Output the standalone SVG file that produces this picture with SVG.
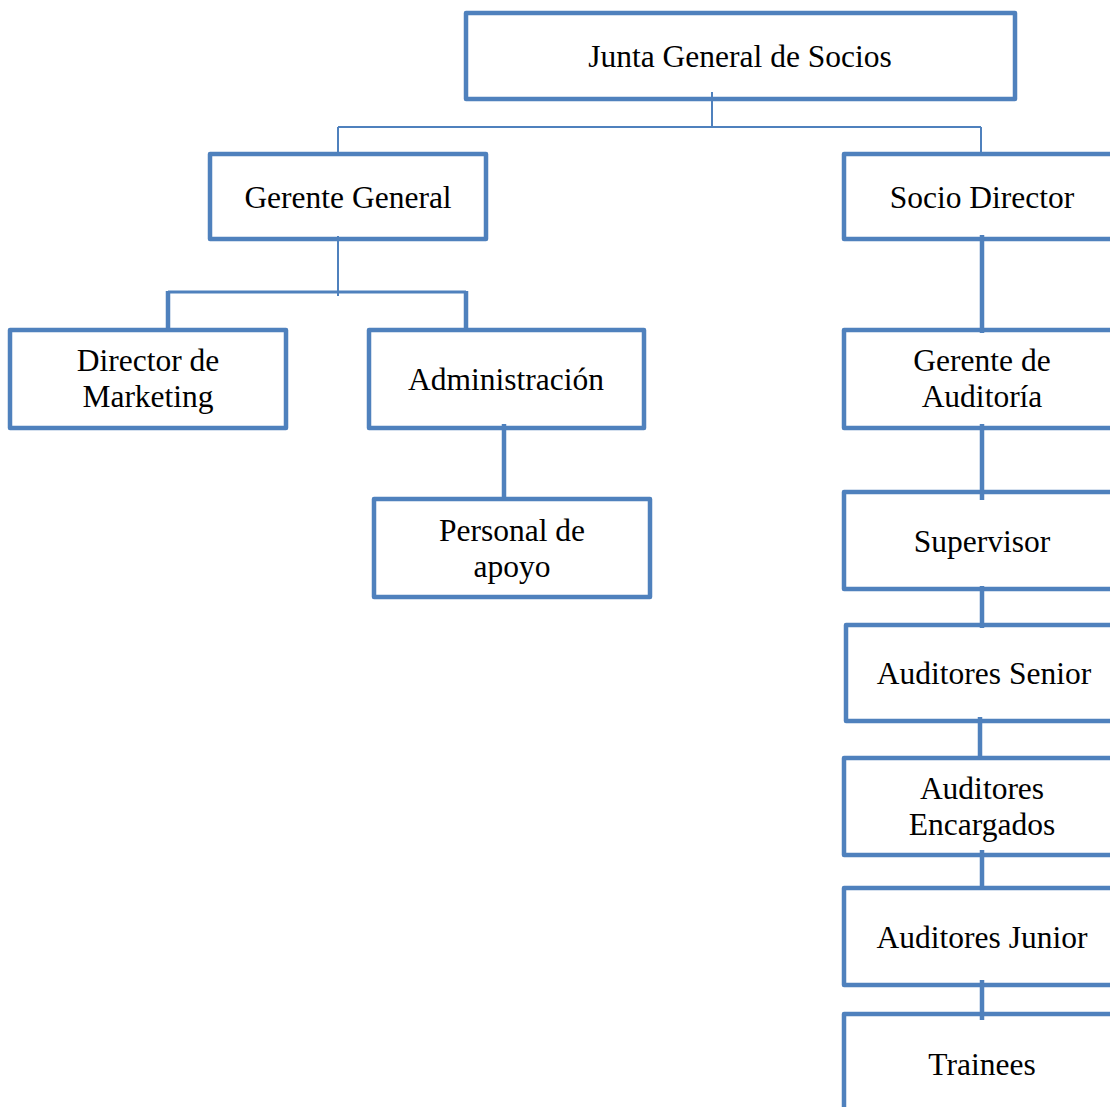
<svg xmlns="http://www.w3.org/2000/svg" width="1110" height="1107" viewBox="0 0 1110 1107">
<style>
.box{fill:#fff;stroke:#4F81BD;stroke-width:4.5;stroke-linejoin:round}
.t{font-family:"Liberation Serif","Times New Roman",serif;font-size:31.5px;fill:#000;text-anchor:middle}
.thin{stroke:#4F81BD;stroke-width:2;fill:none}
.mid{stroke:#4F81BD;stroke-width:3;fill:none}
.thick{stroke:#4F81BD;stroke-width:4.5;fill:none}
</style>
<rect width="1110" height="1107" fill="#fff"/>
<g id="n-junta"><rect class="box" x="466" y="13" width="549" height="86"/><text class="t" x="740" y="67">Junta General de Socios</text></g>
<g id="n-gerente"><rect class="box" x="210" y="154" width="276" height="85"/><text class="t" x="348" y="208">Gerente General</text></g>
<g id="n-socio"><rect class="box" x="844" y="154" width="290" height="85"/><text class="t" x="982" y="208">Socio Director</text></g>
<g id="n-marketing"><rect class="box" x="10" y="330" width="276" height="98"/><text class="t" x="148" y="371">Director de</text><text class="t" x="148" y="407">Marketing</text></g>
<g id="n-admin"><rect class="box" x="369" y="330" width="275" height="98"/><text class="t" x="506" y="390">Administración</text></g>
<g id="n-personal"><rect class="box" x="374" y="499" width="276" height="98"/><text class="t" x="512" y="541">Personal de</text><text class="t" x="512" y="577">apoyo</text></g>
<g id="n-gerente-aud"><rect class="box" x="844" y="330" width="290" height="98"/><text class="t" x="982" y="371">Gerente de</text><text class="t" x="982" y="407">Auditoría</text></g>
<g id="n-supervisor"><rect class="box" x="844" y="492" width="290" height="97"/><text class="t" x="982" y="552">Supervisor</text></g>
<g id="n-senior"><rect class="box" x="846" y="625" width="290" height="96"/><text class="t" x="984" y="684">Auditores Senior</text></g>
<g id="n-encargados"><rect class="box" x="844" y="758" width="290" height="97"/><text class="t" x="982" y="799">Auditores</text><text class="t" x="982" y="835">Encargados</text></g>
<g id="n-junior"><rect class="box" x="844" y="888" width="290" height="97"/><text class="t" x="982" y="948">Auditores Junior</text></g>
<g id="n-trainees"><rect class="box" x="844" y="1014" width="290" height="130"/><text class="t" x="982" y="1075">Trainees</text></g>
<g id="connectors">
<path class="thin" d="M712 92V127M338 127H981M338 127V153M981 127V153"/>
<path class="thin" d="M338 236V296"/>
<path class="mid" d="M168 292H466"/>
<path class="thick" d="M168 291V329M466 291V329"/>
<path class="thick" d="M504 424V498"/>
<path class="thick" d="M982 235V333M982 424V500M982 586V628M980 717V758M982 850V890M982 980V1020"/>
</g>
</svg>
